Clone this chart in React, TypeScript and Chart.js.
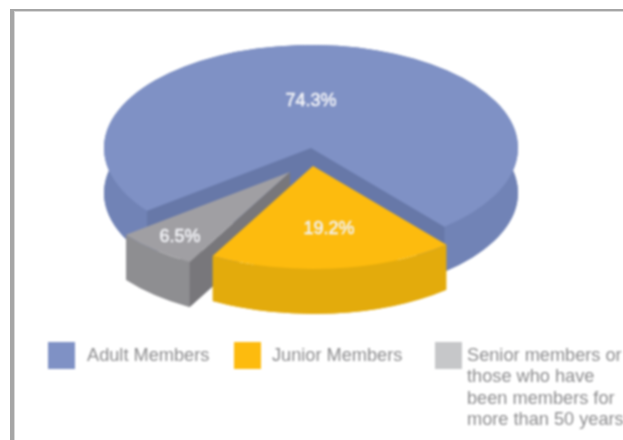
import React, { useEffect, useRef } from "react";
import { Chart, registerables } from "chart.js";

Chart.register(...registerables);

const categories = ["Adult Members", "Junior Members", "Senior members or those who have been members for more than 50 years"];
const values = [74.3, 19.2, 6.5];
const topColors = ["#7f91c5", "#fdbb0e", "#a09fa3"];
const wallColors = ["#7183b6", "#e3ab0c", "#8e8e91"];
const cutColors = ["#6778a8", "#d09c0a", "#78777b"];
const legendColors = ["#7f91c5", "#fdbb0e", "#c6c7c9"];

const SQUASH = 103 / 207;
const DEPTH = 45;
const CENTER_Y = 148;
const CENTER_X = 311;
const pull = [{ x: 0, y: 0 }, { x: 2, y: 18 }, { x: -21, y: 24 }];
const labelAt = [{ x: 0, y: -47 }, { x: 16, y: 63 }, { x: -110, y: 65 }];
const legendLayout = [{ box: 48, text: 87 }, { box: 234, text: 272 }, { box: 435, text: 467 }];

function sectorPath(ctx: CanvasRenderingContext2D, cx: number, cy: number, r: number, a0: number, a1: number) {
  ctx.beginPath();
  ctx.moveTo(cx, cy);
  ctx.ellipse(cx, cy, r, r * SQUASH, 0, a0, a1);
  ctx.closePath();
}

function wrap(ctx: CanvasRenderingContext2D, text: string, maxWidth: number) {
  const lines: string[] = [];
  let line = "";
  for (const word of text.split(" ")) {
    const next = line ? line + " " + word : word;
    if (ctx.measureText(next).width > maxWidth && line) {
      lines.push(line);
      line = word;
    } else line = next;
  }
  lines.push(line);
  return lines;
}

const pie3d = {
  id: "pie3d",
  beforeDatasetDraw(chart: any) {
    const ctx: CanvasRenderingContext2D = chart.ctx;
    const arcs = chart.getDatasetMeta(0).data;
    ctx.save();
    for (const i of [0, 2, 1]) {
      const el = arcs[i];
      const { startAngle: a0, endAngle: a1, outerRadius: r } = el;
      const cx = CENTER_X + pull[i].x;
      const cy = CENTER_Y + pull[i].y;
      const ry = r * SQUASH;
      ctx.fillStyle = wallColors[i];
      sectorPath(ctx, cx, cy + DEPTH, r, a0, a1);
      ctx.fill();
      ctx.beginPath();
      ctx.ellipse(cx, cy, r, ry, 0, a0, a1);
      ctx.ellipse(cx, cy + DEPTH, r, ry, 0, a1, a0, true);
      ctx.closePath();
      ctx.fill();
      ctx.fillStyle = cutColors[i];
      const edges = [
        { a: a0, show: Math.cos(a0) < 0 },
        { a: a1, show: Math.cos(a1) > 0 },
      ];
      for (const { a, show } of edges) {
        if (!show) continue;
        const ex = cx + r * Math.cos(a);
        const ey = cy + ry * Math.sin(a);
        ctx.beginPath();
        ctx.moveTo(cx, cy);
        ctx.lineTo(ex, ey);
        ctx.lineTo(ex, ey + DEPTH);
        ctx.lineTo(cx, cy + DEPTH);
        ctx.closePath();
        ctx.fill();
      }
      ctx.fillStyle = topColors[i];
      sectorPath(ctx, cx, cy, r, a0, a1);
      ctx.fill();
    }
    ctx.font = '18px "Liberation Sans"';
    ctx.fillStyle = "#f2f3f7";
    ctx.strokeStyle = "#f2f3f7";
    ctx.lineWidth = 0.5;
    ctx.textAlign = "center";
    ctx.textBaseline = "middle";
    values.forEach((v, i) => {
      const t = v.toFixed(1) + "%";
      const x = CENTER_X + pull[i].x + labelAt[i].x;
      const y = CENTER_Y + pull[i].y + labelAt[i].y;
      ctx.fillText(t, x, y);
      ctx.strokeText(t, x, y);
    });
    ctx.restore();
    return false;
  },
  afterDraw(chart: any) {
    const ctx: CanvasRenderingContext2D = chart.ctx;
    ctx.save();
    ctx.font = '18.2px "Liberation Sans"';
    ctx.textAlign = "left";
    ctx.textBaseline = "middle";
    categories.forEach((label, i) => {
      ctx.fillStyle = legendColors[i];
      ctx.fillRect(legendLayout[i].box, 342, 27, 27);
      ctx.fillStyle = "#8c8c8e";
      wrap(ctx, label, 160).forEach((line, k) => {
        ctx.fillText(line, legendLayout[i].text, 356 + k * 21.3);
      });
    });
    ctx.restore();
  },
};

export default function App() {
  const ref = useRef<HTMLCanvasElement>(null);
  useEffect(() => {
    document.body.style.margin = "0";
    document.body.style.background = "#fff";
    const chart = new Chart(ref.current!, {
      type: "pie",
      data: {
        labels: categories,
        datasets: [{ data: values, backgroundColor: topColors, borderWidth: 0 }],
      },
      options: {
        responsive: false,
        animation: false,
        rotation: 232.4,
        radius: 207,
        plugins: { legend: { display: false }, tooltip: { enabled: false } },
      },
      plugins: [pie3d],
    } as any);
    return () => chart.destroy();
  }, []);
  return (
    <div style={{ position: "absolute", left: 0, top: 0, width: 623, height: 440, overflow: "hidden", background: "#fff" }}>
      <div style={{ filter: "blur(0.9px)", width: 623, height: 440 }}>
        <canvas ref={ref} width={623} height={440} style={{ display: "block" }} />
      </div>
      <div style={{ position: "absolute", left: 10, top: 9, width: 613, height: 2, background: "#a6a6a6" }} />
      <div style={{ position: "absolute", left: 10, top: 11, width: 613, height: 1, background: "#d8d8d8" }} />
      <div style={{ position: "absolute", left: 10, top: 9, width: 4, height: 431, background: "#a6a6a6" }} />
      <div style={{ position: "absolute", left: 14, top: 11, width: 1, height: 429, background: "#d8d8d8" }} />
    </div>
  );
}
